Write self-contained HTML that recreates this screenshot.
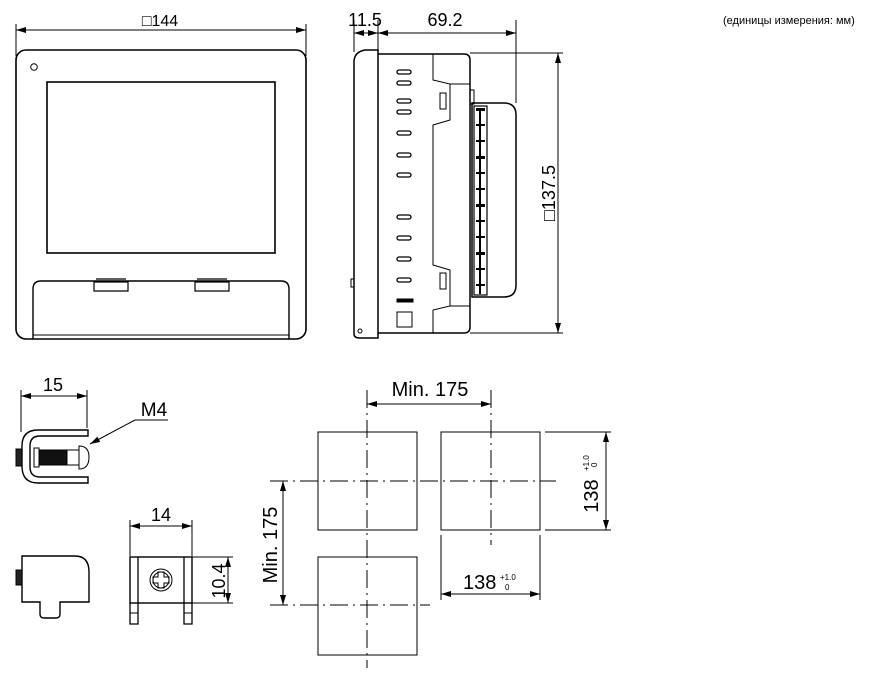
<!DOCTYPE html>
<html><head><meta charset="utf-8"><style>
body{margin:0;background:#fff}
svg{display:block;font-family:"Liberation Sans",sans-serif}
</style></head><body>
<svg width="870" height="684" viewBox="0 0 870 684" xmlns="http://www.w3.org/2000/svg">
<defs>
<marker id="a" viewBox="0 0 10 6" refX="10" refY="3" markerWidth="10" markerHeight="6" orient="auto-start-reverse" markerUnits="userSpaceOnUse"><path d="M0,0L10,3L0,6z" fill="#000"/></marker>
</defs>
<g fill="none" stroke="#000" stroke-width="1">
<line x1="16" y1="24" x2="16" y2="56"/><line x1="306" y1="24" x2="306" y2="56"/>
<line x1="16" y1="30" x2="306" y2="30" marker-start="url(#a)" marker-end="url(#a)"/>
<rect x="16" y="50" width="290" height="289" rx="10" stroke-width="1.6"/>
<circle cx="34" cy="67" r="3.3"/>
<rect x="47" y="82" width="228" height="171" stroke-width="1.6"/>
<path d="M33,339 V289 Q33,281 41,281 H281 Q289,281 289,289 V339" stroke-width="1.4"/>
<path d="M94,291 V282 H128 V291 Z M96,279 H126" stroke-width="1.2"/>
<path d="M195,291 V282 H229 V291 Z M197,279 H227" stroke-width="1.2"/>
<line x1="33" y1="335" x2="289" y2="335"/>
<line x1="354" y1="20" x2="354" y2="52"/><line x1="378" y1="20" x2="378" y2="52"/><line x1="516" y1="20" x2="516" y2="103"/>
<line x1="354" y1="33" x2="378" y2="33" marker-start="url(#a)" marker-end="url(#a)"/>
<line x1="378" y1="33" x2="516" y2="33" marker-start="url(#a)" marker-end="url(#a)"/>
<path d="M378,50 H365 Q354,52 354,62 V334 Q354,338 360,338 H378 Z" stroke-width="1.5"/>
<circle cx="360" cy="331" r="2"/>
<rect x="351" y="279" width="3" height="8"/>
<path d="M378,54 H464 Q470,54 470,60 V327 Q470,333 464,333 H378" stroke-width="1.5"/>
<path d="M433,54 V80 L450,84 V120 L433,125 V265 L450,270 V306 L433,310 V333"/>
<line x1="450" y1="84" x2="470" y2="84"/><line x1="450" y1="306" x2="470" y2="306"/>
<rect x="440" y="93" width="6" height="16"/><rect x="440" y="273" width="6" height="16"/>
<rect x="470" y="90" width="4" height="14"/>
<path d="M472,103 H504 Q516,103 516,115 V285 Q516,297 504,297 H472 Z" stroke-width="1.5"/>
<rect x="474" y="106" width="13" height="189" stroke-width="1.2"/>
<rect x="397" y="299" width="16" height="3" fill="#000"/>
<rect x="397" y="312" width="15" height="15"/>
<line x1="470" y1="53" x2="563" y2="53"/><line x1="470" y1="333" x2="563" y2="333"/>
<line x1="558" y1="53" x2="558" y2="333" marker-start="url(#a)" marker-end="url(#a)"/>
<line x1="21" y1="390" x2="21" y2="432"/><line x1="87" y1="390" x2="87" y2="428"/>
<line x1="21" y1="396" x2="87" y2="396" marker-start="url(#a)" marker-end="url(#a)"/>
<path d="M88,430 H38 Q22,430 22,446 V466 Q22,483 38,483 H88 V477 H40 Q30,477 30,467 V446 Q30,436 40,436 H88 Z" stroke-width="1.4"/>
<rect x="16" y="449" width="6" height="17" fill="#222"/>
<rect x="34" y="448" width="5" height="19"/>
<rect x="39" y="450" width="28" height="15" fill="#111"/>
<rect x="67" y="450" width="12" height="15"/>
<path d="M79,446 Q89,446 89,457 Q89,469 79,469 Z"/>
<line x1="135" y1="420" x2="90" y2="444" marker-end="url(#a)"/>
<line x1="135" y1="420" x2="168" y2="420"/>
<path d="M22,556 H75 Q89,556 89,572 V602 H60 V614 Q60,618 56,618 H44 Q40,618 40,614 V602 H22 Z" stroke-width="1.4"/>
<rect x="16" y="570" width="6" height="15" fill="#222"/>
<line x1="130" y1="520" x2="130" y2="556"/><line x1="192" y1="520" x2="192" y2="556"/>
<line x1="130" y1="526" x2="192" y2="526" marker-start="url(#a)" marker-end="url(#a)"/>
<rect x="130" y="557" width="62" height="46" stroke-width="1.4"/>
<path d="M130,603 V624 H138 V603 M138,557 V603 M184,557 V624 H192 V603" stroke-width="1.3"/>
<line x1="130" y1="613" x2="138" y2="613"/><line x1="184" y1="613" x2="192" y2="613"/>
<circle cx="161" cy="580" r="11"/><circle cx="161" cy="580" r="8"/>
<path d="M158,572 h6 v5 h5 v6 h-5 v5 h-6 v-5 h-5 v-6 h5 z"/>
<line x1="192" y1="557" x2="233" y2="557"/><line x1="192" y1="603" x2="233" y2="603"/>
<line x1="228" y1="557" x2="228" y2="603" marker-start="url(#a)" marker-end="url(#a)"/>
<rect x="318" y="432" width="99" height="98"/>
<rect x="441" y="432" width="99" height="98"/>
<rect x="318" y="557" width="99" height="98"/>
<g stroke-dasharray="18,5,2,5">
<line x1="367" y1="390" x2="367" y2="668"/>
<line x1="491" y1="390" x2="491" y2="545"/>
<line x1="270" y1="481" x2="556" y2="481"/>
<line x1="270" y1="605" x2="430" y2="605"/>
</g>
<line x1="367" y1="404" x2="491" y2="404" marker-start="url(#a)" marker-end="url(#a)"/>
<line x1="283" y1="481" x2="283" y2="605" marker-start="url(#a)" marker-end="url(#a)"/>
<line x1="545" y1="432" x2="611" y2="432"/><line x1="545" y1="530" x2="611" y2="530"/>
<line x1="606" y1="432" x2="606" y2="530" marker-start="url(#a)" marker-end="url(#a)"/>
<line x1="441" y1="535" x2="441" y2="600"/><line x1="540" y1="535" x2="540" y2="600"/>
<line x1="441" y1="594" x2="540" y2="594" marker-start="url(#a)" marker-end="url(#a)"/>
</g>
<g fill="none" stroke="#000" stroke-width="1.3">
<rect x="397" y="70" width="14" height="4" rx="2"/><rect x="397" y="81" width="14" height="4" rx="2"/>
<rect x="397" y="99" width="14" height="4" rx="2"/><rect x="397" y="110" width="14" height="4" rx="2"/>
<rect x="397" y="131" width="14" height="4" rx="2"/>
<rect x="397" y="153" width="14" height="4" rx="2"/><rect x="397" y="173" width="14" height="4" rx="2"/>
<rect x="397" y="215" width="14" height="4" rx="2"/><rect x="397" y="236" width="14" height="4" rx="2"/>
<rect x="397" y="257" width="14" height="4" rx="2"/><rect x="397" y="278" width="14" height="4" rx="2"/>
</g>
<g fill="#000">
<rect x="476" y="108" width="9" height="3"/><rect x="476" y="124" width="9" height="2"/><rect x="476" y="140" width="9" height="2"/><rect x="476" y="156" width="9" height="3"/><rect x="476" y="172" width="9" height="2"/><rect x="476" y="188" width="9" height="2"/><rect x="476" y="204" width="9" height="3"/><rect x="476" y="220" width="9" height="2"/><rect x="476" y="236" width="9" height="2"/><rect x="476" y="252" width="9" height="3"/><rect x="476" y="268" width="9" height="2"/><rect x="476" y="284" width="9" height="2"/>
<rect x="479" y="110" width="2" height="184"/>
</g>
<g font-size="18" fill="#000">
<text x="160" y="26" text-anchor="middle" font-size="16">□144</text>
<text x="365" y="26" text-anchor="middle">11.5</text>
<text x="445" y="26" text-anchor="middle">69.2</text>
<text transform="translate(555,193) rotate(-90)" text-anchor="middle">□137.5</text>
<text x="53" y="391" text-anchor="middle">15</text>
<text x="154" y="416" text-anchor="middle" font-size="19">M4</text>
<text x="161" y="521" text-anchor="middle">14</text>
<text transform="translate(225,581) rotate(-90)" text-anchor="middle">10.4</text>
<text x="430" y="396" text-anchor="middle" font-size="20">Min. 175</text>
<text transform="translate(277,545) rotate(-90)" text-anchor="middle" font-size="20">Min. 175</text>
<text x="463" y="589" font-size="20">138</text>
<text transform="translate(598,496) rotate(-90)" text-anchor="middle" font-size="20">138</text>
</g>
<g font-size="8" fill="#000">
<text x="500" y="580">+1.0</text><text x="505" y="590">0</text>
<text transform="translate(589,471) rotate(-90)">+1.0</text><text transform="translate(597,467) rotate(-90)">0</text>
<text x="723" y="24" font-size="11">(единицы измерения: мм)</text>
</g>
</svg>
</body></html>
